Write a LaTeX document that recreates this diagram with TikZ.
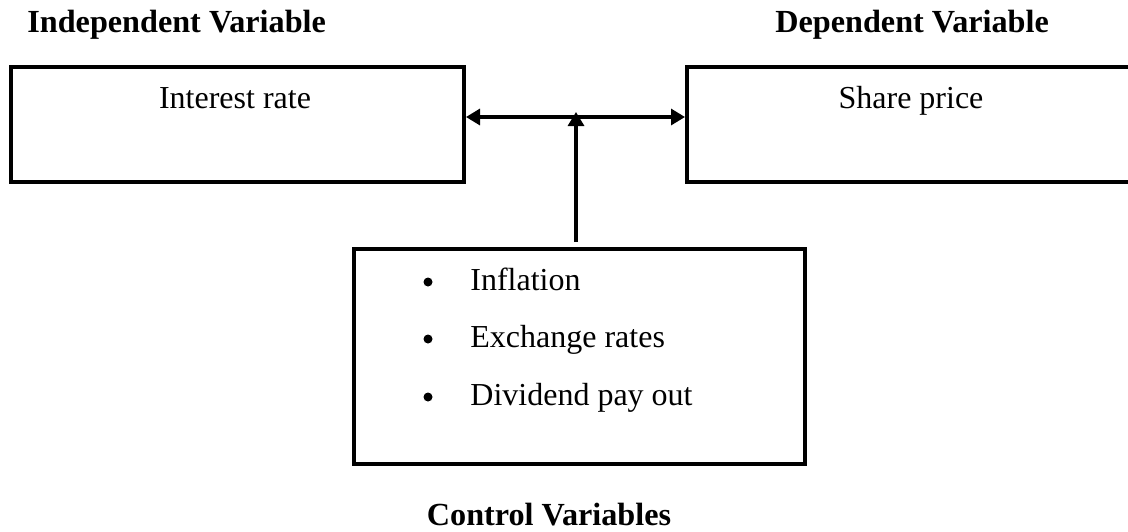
\documentclass[tikz,border=0pt]{standalone}
\usepackage{fontspec}
\setmainfont{Liberation Serif}
\usetikzlibrary{arrows.meta}
\begin{document}
\begin{tikzpicture}[x=0.5pt,y=-0.5pt,
  box/.style={draw=black,line width=2pt,rectangle,inner sep=0pt},
  txt/.style={inner sep=0pt,anchor=base west,font=\fontsize{16pt}{19pt}\selectfont},
  head/.style={inner sep=0pt,anchor=base west,font=\fontsize{16.1pt}{19pt}\selectfont\bfseries},
  dot/.style={circle,fill=black,inner sep=0pt,minimum size=4.5pt},
  tip/.style={Triangle[length=7pt,width=8pt]},
  conn/.style={line width=1.6pt}]
\useasboundingbox (0,0) rectangle (1128,531);
% headings
\node[head] (hind) at (27,32) {Independent Variable};
\node[head] (hdep) at (775,32) {Dependent Variable};
\node[head,anchor=base] (hctl) at (549,525) {Control Variables};
% boxes
\node[box,minimum width=226.5pt,minimum height=57.5pt,anchor=north west] (ir) at (9,65) {};
\node[box,minimum width=232pt,minimum height=57.5pt,anchor=north west] (sp) at (685,65) {};
\node[box,minimum width=225.5pt,minimum height=107.5pt,anchor=north west] (cv) at (352,247) {};
% box texts
\node[txt,anchor=base] (irt) at (235,108) {Interest rate};
\node[txt,anchor=base] (spt) at (911,108) {Share price};
\node[dot] (b1) at (428,282) {};
\node[dot] (b2) at (428,339) {};
\node[dot] (b3) at (428,397) {};
\node[txt] (c1) at (470,290) {Inflation};
\node[txt] (c2) at (470,347) {Exchange rates};
\node[txt] (c3) at (470,405) {Dividend pay out};
% connectors
\coordinate (jn) at (576,117);
\coordinate (jt) at (576,112);
\draw[conn,{Triangle[length=7pt,width=8pt]}-{Triangle[length=7pt,width=8pt]}] (ir.east |- jn) -- (sp.west |- jn);
\draw[conn,-{Triangle[length=7pt,width=8pt]},shorten <=2.5pt] (cv.north -| jn) -- (jt);
\end{tikzpicture}
\end{document}
